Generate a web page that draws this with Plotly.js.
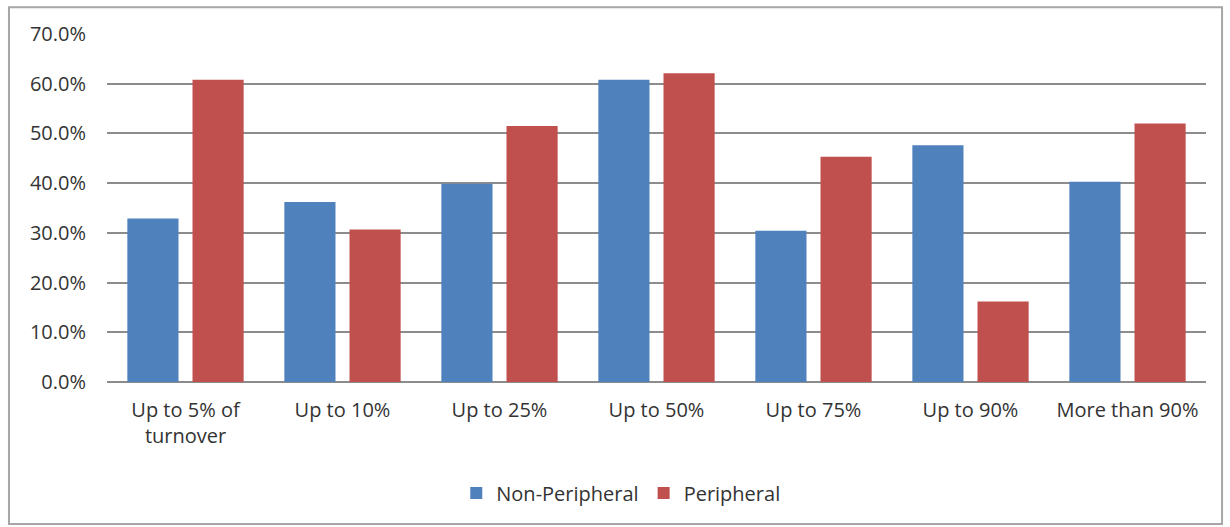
<!DOCTYPE html>
<html>
<head>
<meta charset="utf-8">
<script src="https://cdn.plot.ly/plotly-3.0.1.min.js"></script>
<style>html,body{margin:0;padding:0;background:#fff;}#chart{width:1230px;height:527px;}</style>
</head>
<body>
<div id="chart"></div>
<script>
const categories = ["Up to 5% of<br>turnover", "Up to 10%", "Up to 25%", "Up to 50%", "Up to 75%", "Up to 90%", "More than 90%"];
const nonPeripheral = [32.9, 36.2, 39.9, 60.8, 30.4, 47.6, 40.3];
const peripheral = [60.8, 30.7, 51.5, 62.1, 45.3, 16.2, 52.0];
const yTicks = [0, 10, 20, 30, 40, 50, 60, 70];

const font = {family: "'Open Sans', sans-serif", size: 20, color: "#333333"};

const traces = [
  {type: "bar", name: "Non-Peripheral", x: categories, y: nonPeripheral, marker: {color: "#4F81BD"}},
  {type: "bar", name: "Peripheral", x: categories, y: peripheral, marker: {color: "#C0504D"}}
];

const layout = {
  width: 1230, height: 527,
  margin: {l: 107, r: 24, t: 34, b: 145},
  paper_bgcolor: "#ffffff", plot_bgcolor: "#ffffff",
  font: font,
  barmode: "group", bargap: 0.17, bargroupgap: 0.215,
  showlegend: true,
  legend: {orientation: "h", x: 0.4675, xanchor: "center", y: -0.319, yanchor: "middle", font: font, itemwidth: 30, traceorder: "normal"},
  xaxis: {type: "category", showgrid: false, showline: false, ticks: "", tickfont: font, zeroline: false, ticklabelstandoff: 14},
  yaxis: {range: [0, 70], tickvals: yTicks, ticktext: yTicks.map(v => v.toFixed(1) + "%"), showgrid: true, gridcolor: "#8c8c8c", gridwidth: 2, zeroline: true, zerolinecolor: "#8c8c8c", zerolinewidth: 2, showline: false, ticks: "", tickfont: font, ticklabelstandoff: 20},
  shapes: [{type: "rect", xref: "paper", yref: "paper", x0: -0.0892, x1: 1.0146, y0: -0.408, y1: 1.077, line: {color: "#a6a6a6", width: 2}, fillcolor: "rgba(0,0,0,0)", layer: "below"}]
};

Plotly.newPlot("chart", traces, layout, {displayModeBar: false, staticPlot: true});
</script>
</body>
</html>
